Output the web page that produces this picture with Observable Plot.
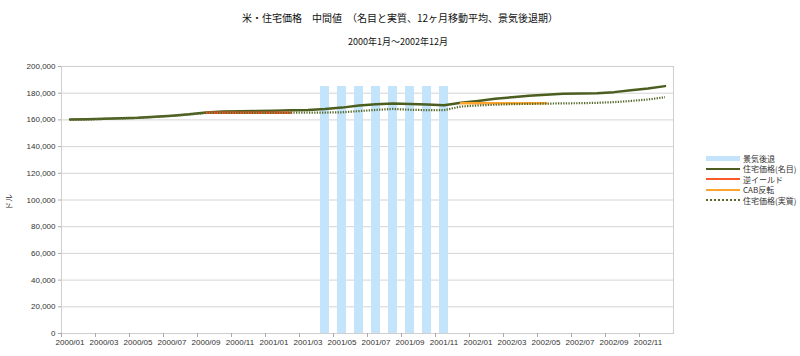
<!DOCTYPE html>
<html><head><meta charset="utf-8">
<script src="https://cdn.jsdelivr.net/npm/d3@7"></script>
<script src="https://cdn.jsdelivr.net/npm/@observablehq/plot@0.6"></script>
<style>
html,body{margin:0;padding:0;background:#fff;}
#wrap{position:relative;width:800px;height:356px;overflow:hidden;font-family:"Liberation Sans","Noto Sans CJK JP",sans-serif;}
#title{position:absolute;left:0;width:800px;top:10px;text-align:center;font-size:10px;color:#111;font-family:"Noto Sans CJK JP",sans-serif;}
#subtitle{position:absolute;left:0;width:796px;top:35px;text-align:center;font-size:9px;color:#111;font-family:"Noto Sans CJK JP",sans-serif;}
#ylabel{position:absolute;left:8px;top:202px;font-size:8px;color:#333;transform:translate(-50%,-50%) rotate(-90deg);font-family:"Noto Sans CJK JP",sans-serif;white-space:nowrap;}
#legend{position:absolute;left:706px;top:153px;font-size:8px;color:#333;font-family:"Noto Sans CJK JP",sans-serif;}
.item{display:flex;align-items:center;height:10.5px;}
.sw{width:34px;height:0;margin-right:3px;}
#chart{position:absolute;left:0;top:0;}
</style></head>
<body><div id="wrap">
<div id="chart"></div>
<div id="title">米・住宅価格　中間値　（名目と実質、12ヶ月移動平均、景気後退期）</div>
<div id="subtitle">2000年1月～2002年12月</div>
<div id="ylabel">ドル</div>
<div id="legend"></div>
</div>
<script>
const months = [
 "2000/01","2000/02","2000/03","2000/04","2000/05","2000/06","2000/07","2000/08","2000/09","2000/10","2000/11","2000/12",
 "2001/01","2001/02","2001/03","2001/04","2001/05","2001/06","2001/07","2001/08","2001/09","2001/10","2001/11","2001/12",
 "2002/01","2002/02","2002/03","2002/04","2002/05","2002/06","2002/07","2002/08","2002/09","2002/10","2002/11","2002/12"];
const nominal = [160300,160500,160900,161300,161700,162400,163200,164200,165600,166200,166400,166600,
 166900,167200,167500,168200,169200,170800,171800,172200,172000,171500,171000,172800,
 174200,175800,177000,178000,178800,179500,179700,180000,180800,182200,183600,185300];
const real = [160100,160300,160700,161100,161500,162200,163000,164000,165200,165300,165300,165300,
 165300,165400,165400,165500,165700,166600,167500,168200,167600,167300,167300,170000,
 170800,171400,171800,172000,172200,172400,172500,172800,173300,174200,175300,177000];
const recessionMonths = ["2001/04","2001/05","2001/06","2001/07","2001/08","2001/09","2001/10","2001/11"];
const recessionValue = 185000;
const yieldMonths = ["2000/09","2000/10","2000/11","2000/12","2001/01","2001/02"];
const yieldValue = 165300;
const cabMonths = ["2001/12","2002/01","2002/02","2002/03","2002/04","2002/05"];
const cabValue = 172500;
const yTicks = [0,20000,40000,60000,80000,100000,120000,140000,160000,180000,200000];
const xLabels = months.filter((m,i)=>i%2===0);
const legendItems = [
 {label:"景気後退", color:"#c3e4fb", width:5, dash:"solid"},
 {label:"住宅価格(名目)", color:"#4b5d1f", width:2, dash:"solid"},
 {label:"逆イールド", color:"#ff5a2a", width:2, dash:"solid"},
 {label:"CAB反転", color:"#ffa52e", width:2, dash:"solid"},
 {label:"住宅価格(実質)", color:"#56692a", width:2, dash:"dotted"}
];

const nomData = months.map((m,i)=>({m, v:nominal[i]}));
const realData = months.map((m,i)=>({m, v:real[i]}));
const recData = recessionMonths.map(m=>({m, v:recessionValue}));
const yData = yieldMonths.map(m=>({m, v:yieldValue}));
const cData = cabMonths.map(m=>({m, v:cabValue}));

const chart = Plot.plot({
  width: 800, height: 356,
  marginLeft: 61, marginRight: 127, marginTop: 66, marginBottom: 23,
  style: {fontFamily: '"Liberation Sans", Arial, sans-serif', fontSize: "8px", color: "#333", background: "transparent"},
  x: {type: "band", domain: months, paddingInner: 0.5, paddingOuter: 0.25, align: 0.5},
  y: {domain: [0, 200000]},
  marks: [
    Plot.gridY(yTicks, {stroke: "#d4d4d4", strokeOpacity: 1, strokeWidth: 1}),
    Plot.barY(recData, {x: "m", y: "v", fill: "#c3e4fb"}),
    Plot.frame({stroke: "#cfcfcf", strokeWidth: 1}),
    Plot.ruleX(xLabels, {x: d=>d, y1: 0, y2: 0, dx: -8.5, insetTop: 4, stroke: "#aaa"}),
    Plot.axisY({ticks: yTicks, tickFormat: d3.format(","), tickSize: 3, tickPadding: 3, stroke: "#aaa", fill: "#333", label: null}),
    Plot.axisX({ticks: xLabels, tickSize: 0, tickPadding: 6, fill: "#333", label: null}),
    Plot.line(nomData, {x: "m", y: "v", stroke: "#4b5d1f", strokeWidth: 2.5}),
    Plot.line(yData, {x: "m", y: "v", stroke: "#ff5a2a", strokeWidth: 2.5}),
    Plot.line(cData, {x: "m", y: "v", stroke: "#ffa52e", strokeWidth: 2.5}),
    Plot.line(realData, {x: "m", y: "v", stroke: "#56692a", strokeWidth: 2.2, strokeDasharray: "1.3,1.3", strokeLinecap: "butt"})
  ]
});
document.getElementById("chart").appendChild(chart);

const lg = d3.select("#legend");
legendItems.forEach(it=>{
  const row = lg.append("div").attr("class","item");
  row.append("div").attr("class","sw")
    .style("border-top", `${it.width}px ${it.dash} ${it.color}`);
  row.append("span").text(it.label);
});
</script>
</body></html>
